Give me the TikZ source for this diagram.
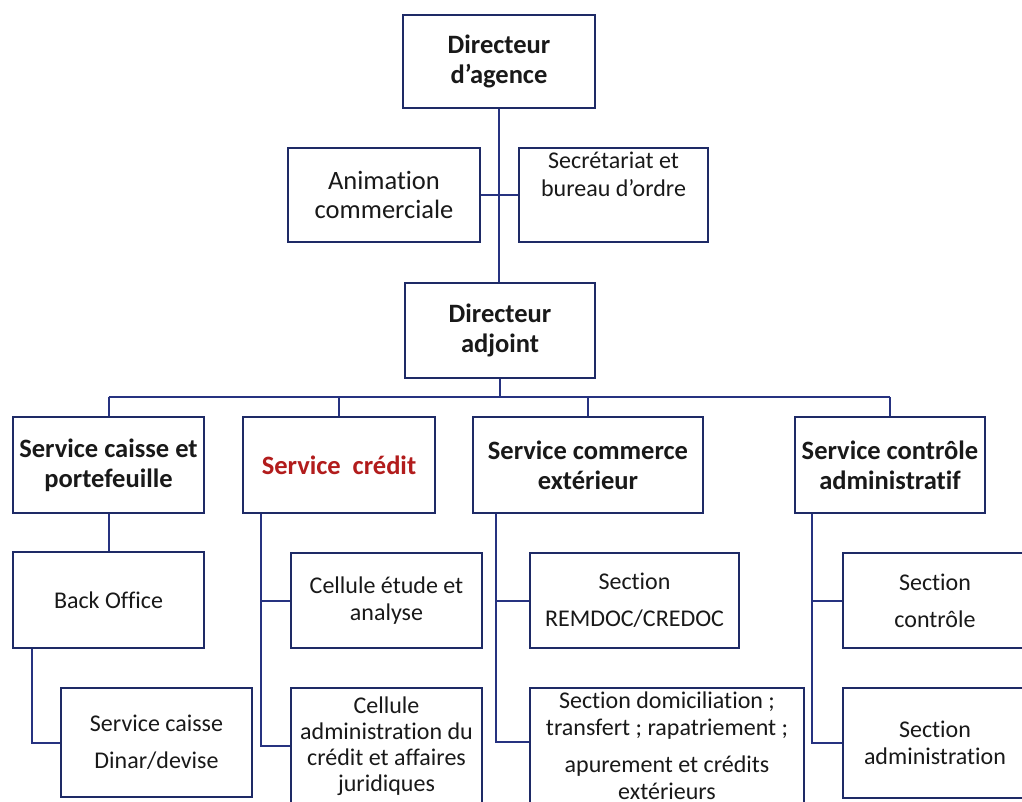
\documentclass[tikz,border=0pt]{standalone}
\usepackage{fontspec}
\setmainfont{Carlito}[Ligatures=NoCommon]
\usepackage{xcolor}
\usepackage{tikz}
\usetikzlibrary{positioning}
\definecolor{navy}{RGB}{30,42,102}
\definecolor{linkblue}{RGB}{38,50,128}
\definecolor{creditred}{RGB}{178,28,28}
\tikzstyle{unit}=[draw=navy, line width=2.8pt, fill=white, align=center, inner sep=2pt, text=black!90, font=\fontsize{24}{27}\selectfont]
\tikzstyle{head}=[unit, font=\fontsize{26.5}{30}\selectfont\bfseries]
\tikzstyle{caption}=[align=center, inner sep=0pt, text=black!90, font=\fontsize{24}{28}\selectfont]
\tikzstyle{link}=[draw=linkblue, line width=2pt]

\begin{document}
\begin{tikzpicture}[x=1pt, y=-1pt]
        \useasboundingbox (0,0) rectangle (1022,802);
        % direction
        \node[head, minimum width=192pt, minimum height=93pt] (dag) at (499,61.5) {Directeur\\d’agence};
        \node[unit, minimum width=192pt, minimum height=94pt, font=\fontsize{26.5}{29}\selectfont] (anim) at (384,195) {Animation\\commerciale};
        \node[unit, minimum width=189pt, minimum height=94pt] (secr) at (613.5,195) {};
        \node[caption] (secr-txt) at (613.5,174) {Secrétariat et\\bureau d’ordre};
        \node[head, minimum width=190pt, minimum height=95pt] (adj) at (500,330.5) {Directeur\\adjoint};
        % services
        \node[head, minimum width=191pt, minimum height=96pt] (caisse) at (108.5,465) {Service caisse et\\portefeuille};
        \node[head, minimum width=192pt, minimum height=96pt, text=creditred] (credit) at (339,465) {Service\ \ crédit};
        \node[head, minimum width=230pt, minimum height=96pt] (commerce) at (588,465) {Service commerce\\extérieur};
        \node[head, minimum width=190pt, minimum height=96pt] (ctrl) at (890,465) {Service contrôle\\administratif};
        % cellules et sections
        \node[unit, minimum width=191pt, minimum height=96pt] (back) at (108.5,600) {Back Office};
        \node[unit, minimum width=191pt, minimum height=109pt] (dinar) at (156.5,742.5) {Service caisse\\[10pt]Dinar/devise};
        \node[unit, minimum width=191pt, minimum height=95pt] (etude) at (386.5,600.5) {Cellule étude et\\analyse};
        \node[unit, minimum width=191pt, minimum height=116pt, font=\fontsize{24}{26}\selectfont] (admcr) at (386.5,746) {Cellule\\administration du\\crédit et affaires\\juridiques};
        \node[unit, minimum width=209pt, minimum height=95pt] (remdoc) at (634.5,600.5) {Section\\[10pt]REMDOC/CREDOC};
        \node[unit, minimum width=274pt, minimum height=116pt] (domic) at (667,746) {Section domiciliation ;\\transfert ; rapatriement ;\\[10pt]apurement et crédits\\extérieurs};
        \node[unit, minimum width=184pt, minimum height=95pt] (sctrl) at (935,600.5) {Section\\[10pt]contrôle};
        \node[unit, minimum width=184pt, minimum height=110pt] (sadm) at (935,743) {Section\\administration};
        % liaisons
        \coordinate (bus) at (500,397);
        \draw[link] (dag.south) -- (dag.south |- adj.north);
        \draw[link] (anim.east) -- (secr.west);
        \draw[link] (adj.south) -- (adj.south |- bus);
        \draw[link] (caisse.north |- bus) -- (ctrl.north |- bus);
        \foreach \s in {caisse,credit,commerce,ctrl} {
            \draw[link] (\s.north) -- (\s.north |- bus);
        }
        \draw[link] (caisse.south) -- (back.north);
        \draw[link] ([xshift=20pt]back.south west) |- (dinar.west);
        \draw[link] ([xshift=19pt]credit.south west) |- (etude.west);
        \draw[link] ([xshift=19pt]credit.south west) |- (admcr.west);
        \draw[link] ([xshift=24pt]commerce.south west) |- (remdoc.west);
        \draw[link] ([xshift=24pt]commerce.south west) |- ([yshift=4pt]domic.west);
        \draw[link] ([xshift=18pt]ctrl.south west) |- (sctrl.west);
        \draw[link] ([xshift=18pt]ctrl.south west) |- (sadm.west);
    \end{tikzpicture}
\end{document}
